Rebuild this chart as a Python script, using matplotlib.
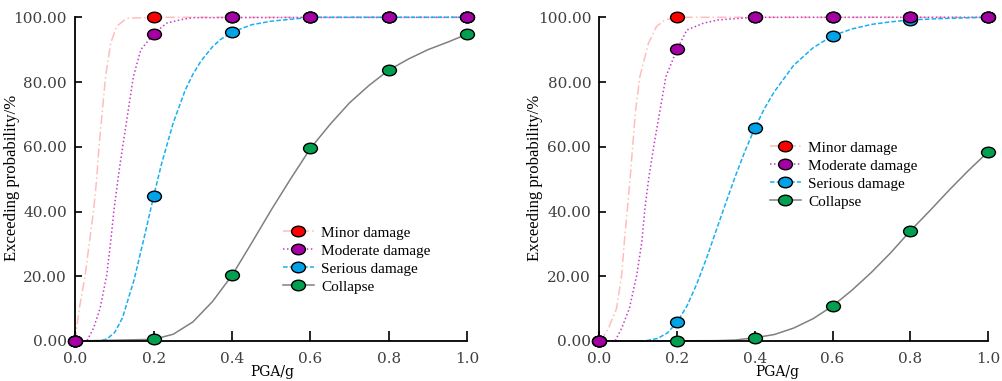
import matplotlib
matplotlib.use("Agg")
import matplotlib.pyplot as plt
from matplotlib.path import Path
from matplotlib.lines import Line2D

# PGA points where markers sit
pga = [0.0, 0.2, 0.4, 0.6, 0.8, 1.0]
labels = ['Minor damage', 'Moderate damage', 'Serious damage', 'Collapse']

# left panel - marker values (%)
left_pts = {
    'Minor damage': [0, 100, 100, 100, 100, 100],
    'Moderate damage': [0, 94.9, 100, 100, 100, 100],
    'Serious damage': [0, 44.9, 95.4, 100, 100, 100],
    'Collapse': [0, 0.5, 20.3, 59.5, 83.7, 94.8],
}
# left panel - curves
left_minor_x = [0, 0.002, 0.010, 0.025, 0.036, 0.047, 0.054, 0.061, 0.069, 0.077, 0.090, 0.105, 0.131, 0.2, 1.0]
left_minor_y = [0, 2.9, 10.1, 20.4, 30.7, 41, 49.8, 61.1, 71.4, 81.7, 92, 97.2, 99.7, 100, 100]
left_mod_x = [0, 0.029, 0.046, 0.063, 0.080, 0.090, 0.099, 0.110, 0.122, 0.135, 0.148, 0.167, 0.2, 0.233, 0.267, 0.3, 1.0]
left_mod_y = [0, 0, 3.9, 10.1, 20.4, 30.7, 41, 51.3, 61.1, 71.4, 81.7, 90, 94.9, 98.2, 99.2, 99.9, 100]
left_ser_x = [0, 0.06, 0.08, 0.1, 0.12, 0.15, 0.18, 0.2, 0.22, 0.25, 0.28, 0.3, 0.32, 0.35, 0.37, 0.4,
              0.45, 0.5, 0.55, 0.6, 1.0]
left_ser_y = [0, 0, 0.6, 2.6, 7.1, 19, 34.3, 44.9, 54.8, 67.5, 77.4, 82.4, 86.4, 90.9, 93.1, 95.4,
              97.7, 98.8, 99.4, 100, 100]
left_col_x = [0, 0.2, 0.25, 0.3, 0.35, 0.4, 0.45, 0.5, 0.55, 0.6, 0.65, 0.7, 0.75, 0.8, 0.85, 0.9, 0.95, 1.0]
left_col_y = [0, 0.5, 2.1, 5.9, 12.2, 20.3, 30.3, 40.5, 50.2, 59.5, 66.9, 73.6, 79, 83.7, 87.1, 90, 92.3, 94.8]

# right panel - marker values (%)
right_pts = {
    'Minor damage': [0, 100, 100, 100, 100, 100],
    'Moderate damage': [0, 90.2, 100, 100, 100, 100],
    'Serious damage': [0, 5.8, 65.8, 94.3, 99.2, 100],
    'Collapse': [0, 0, 1, 10.8, 34, 58.4],
}
right_minor_x = [0, 0.006, 0.023, 0.044, 0.057, 0.064, 0.072, 0.079, 0.086, 0.093, 0.104, 0.126, 0.147, 0.169, 0.2, 1.0]
right_minor_y = [0, 0.5, 3.9, 10.1, 20.4, 30.7, 41, 50.5, 61.1, 71.4, 81.7, 92, 97.2, 99.2, 100, 100]
right_mod_x = [0, 0.040, 0.057, 0.077, 0.096, 0.109, 0.117, 0.127, 0.141, 0.156, 0.171, 0.2, 0.225, 0.268, 0.306, 0.4, 1.0]
right_mod_y = [0, 0, 3.9, 10.1, 20.4, 30.7, 41, 50.5, 61.1, 71.4, 81.7, 90.2, 96.1, 98.2, 99.2, 100, 100]
right_ser_x = [0, 0.11, 0.125, 0.15, 0.175, 0.2, 0.225, 0.25, 0.275, 0.3, 0.325, 0.35, 0.375, 0.4, 0.425,
               0.45, 0.5, 0.55, 0.6, 0.65, 0.7, 0.75, 0.8, 0.9, 1.0]
right_ser_y = [0, 0, 0.2, 0.8, 2.5, 5.8, 10.8, 17.5, 25.4, 34, 42.6, 51, 58.8, 65.8, 71.9,
               77, 85.2, 90.6, 94.3, 96.4, 97.8, 98.6, 99.2, 99.7, 100]
right_col_x = [0, 0.3, 0.35, 0.4, 0.45, 0.5, 0.55, 0.6, 0.65, 0.7, 0.75, 0.8, 0.85, 0.9, 0.95, 1.0]
right_col_y = [0, 0.1, 0.3, 1, 2, 4, 6.9, 10.8, 15.7, 21.2, 27.3, 34, 40.2, 46.6, 52.7, 58.4]

# styles
face = {'Minor damage': '#FF0000', 'Moderate damage': '#A400A4',
        'Serious damage': '#00A2E8', 'Collapse': '#00A050'}
lcol = {'Minor damage': '#FFBDBD', 'Moderate damage': '#C83CC8',
        'Serious damage': '#18B0F0', 'Collapse': '#808080'}
lsty = {'Minor damage': (0, (6, 2, 1, 2)), 'Moderate damage': (0, (1, 1.6)),
        'Serious damage': (0, (3, 1.4)), 'Collapse': '-'}
zo = {'Minor damage': 4, 'Moderate damage': 7, 'Serious damage': 5, 'Collapse': 6}

circ = Path.unit_circle()
ellipse = Path(circ.vertices * [1.0, 0.76], circ.codes)

plt.rcParams['font.family'] = ['Liberation Serif', 'DejaVu Serif']
fig = plt.figure(figsize=(10.03, 3.81), dpi=100)


def draw_panel(ax, curves, pts):
    for lab in labels:
        cx, cy = curves[lab]
        ax.plot(cx, cy, color=lcol[lab], linestyle=lsty[lab], lw=1.1, zorder=2, clip_on=False)
    for lab in labels:
        ax.plot(pga, pts[lab], linestyle='none', marker=ellipse, ms=10,
                mfc=face[lab], mec='black', mew=1.0, zorder=zo[lab], clip_on=False)
    ax.set_xlim(0, 1.0)
    ax.set_ylim(0, 100)
    ax.spines['top'].set_visible(False)
    ax.spines['right'].set_visible(False)
    ax.spines['left'].set_linewidth(1.3)
    ax.spines['bottom'].set_linewidth(1.3)
    ax.set_xticks(pga)
    ax.set_xticklabels(['%.1f' % v for v in pga])
    ax.set_yticks([0, 20, 40, 60, 80, 100])
    ax.set_yticklabels(['%.2f' % v for v in [0, 20, 40, 60, 80, 100]])
    ax.tick_params(axis='x', direction='in', length=7, width=1.2, pad=8, labelcolor='#404040')
    ax.tick_params(axis='y', direction='in', length=5, width=1.2, pad=6, labelcolor='#404040')
    for t in ax.get_xticklabels() + ax.get_yticklabels():
        t.set_family('DejaVu Serif')
        t.set_fontsize(11)
    handles = [Line2D([], [], color=lcol[l], linestyle=lsty[l], lw=1.1, marker=ellipse,
                      ms=10, mfc=face[l], mec='black', mew=1.0) for l in labels]
    return handles


ax1 = fig.add_axes([0.0752, 0.105, 0.3905, 0.8496])
h = draw_panel(ax1, {'Minor damage': (left_minor_x, left_minor_y),
                     'Moderate damage': (left_mod_x, left_mod_y),
                     'Serious damage': (left_ser_x, left_ser_y),
                     'Collapse': (left_col_x, left_col_y)}, left_pts)
ax1.legend(h, labels, loc='upper left', bbox_to_anchor=(283 / 1003, 1 - 226 / 381),
           bbox_transform=fig.transFigure, frameon=False, fontsize=11,
           handlelength=2.0, handletextpad=0.5, labelspacing=0.28,
           borderpad=0, borderaxespad=0)

ax2 = fig.add_axes([0.5977, 0.105, 0.3873, 0.8496])
h = draw_panel(ax2, {'Minor damage': (right_minor_x, right_minor_y),
                     'Moderate damage': (right_mod_x, right_mod_y),
                     'Serious damage': (right_ser_x, right_ser_y),
                     'Collapse': (right_col_x, right_col_y)}, right_pts)
ax2.legend(h, labels, loc='upper left', bbox_to_anchor=(770 / 1003, 1 - 141 / 381),
           bbox_transform=fig.transFigure, frameon=False, fontsize=11,
           handlelength=2.0, handletextpad=0.5, labelspacing=0.28,
           borderpad=0, borderaxespad=0)

# axis titles placed in figure pixels
for xl, yl in [(12, 272), (535, 777)]:
    fig.text(xl / 1003, 1 - 178 / 381, 'Exceeding probability/%', rotation=90,
             ha='center', va='center', fontsize=12)
    fig.text(yl / 1003, 1 - 372 / 381, 'PGA/g', ha='center', va='center',
             fontsize=10, family='DejaVu Serif')

fig.savefig('out.png', dpi=100)
